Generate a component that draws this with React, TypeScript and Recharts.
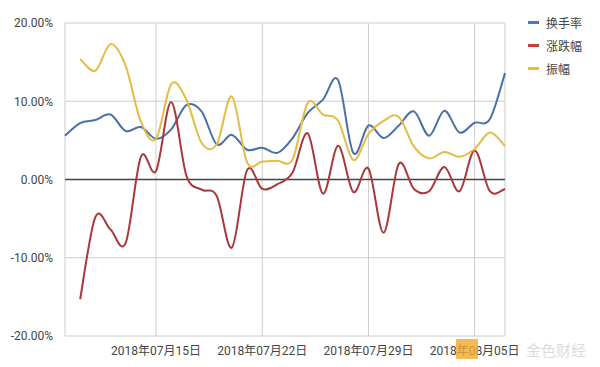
import { LineChart, Line, XAxis, YAxis, CartesianGrid, ReferenceLine } from 'recharts'

// daily values, 2018-07-09 .. 2018-08-07 (percent)
const dates = [
  '2018年07月09日', '2018年07月10日', '2018年07月11日', '2018年07月12日', '2018年07月13日',
  '2018年07月14日', '2018年07月15日', '2018年07月16日', '2018年07月17日', '2018年07月18日',
  '2018年07月19日', '2018年07月20日', '2018年07月21日', '2018年07月22日', '2018年07月23日',
  '2018年07月24日', '2018年07月25日', '2018年07月26日', '2018年07月27日', '2018年07月28日',
  '2018年07月29日', '2018年07月30日', '2018年07月31日', '2018年08月01日', '2018年08月02日',
  '2018年08月03日', '2018年08月04日', '2018年08月05日', '2018年08月06日', '2018年08月07日',
]
const turnover = [5.6, 7.2, 7.6, 8.3, 6.2, 6.7, 5.2, 6.4, 9.5, 8.7, 4.5, 5.7, 3.8, 4.05, 3.4, 5.3, 8.5, 10.2, 12.7, 3.4, 6.9, 5.3, 6.9, 8.7, 5.6, 8.8, 6.0, 7.25, 7.7, 13.6]
const change = [null, -15.3, -4.8, -6.4, -8.1, 2.9, 1.1, 9.9, 0.5, -1.3, -2.1, -8.7, 1.2, -1.2, -0.6, 0.9, 5.9, -1.8, 4.3, -1.6, 1.4, -6.8, 2.0, -1.2, -1.5, 1.6, -1.5, 3.7, -1.5, -1.2]
const amplitude = [null, 15.4, 13.9, 17.3, 14.5, 7.4, 5.2, 12.2, 10.2, 4.7, 4.5, 10.6, 2.2, 2.3, 2.4, 2.6, 9.8, 8.3, 7.5, 2.5, 5.8, 7.5, 8.0, 4.2, 2.7, 3.5, 2.9, 3.9, 6.0, 4.3]
const xTicks = ['2018年07月15日', '2018年07月22日', '2018年07月29日', '2018年08月05日']
const yTicks = [-20, -10, 0, 10, 20]

const series = [
  { key: 'turnover', name: '换手率', color: '#4a6fa8', icon: '#4a78c8' },
  { key: 'change', name: '涨跌幅', color: '#a8383a', icon: '#c0413a' },
  { key: 'amplitude', name: '振幅', color: '#e2bc45', icon: '#e6bd3f' },
]

const data = dates.map((d, i) => ({
  i,
  date: d,
  turnover: turnover[i],
  change: change[i],
  amplitude: amplitude[i],
}))

const font = "Roboto, 'Noto Sans CJK SC', sans-serif"

// catmull-rom style smoothing, close to the "function" curves of the original
function smoothCurve(context: any) {
  let pts: number[][] = []
  const flush = () => {
    if (!pts.length) return
    context.moveTo(pts[0][0], pts[0][1])
    for (let k = 0; k < pts.length - 1; k++) {
      const p0 = pts[Math.max(k - 1, 0)]
      const p1 = pts[k]
      const p2 = pts[k + 1]
      const p3 = pts[Math.min(k + 2, pts.length - 1)]
      context.bezierCurveTo(
        p1[0] + (p2[0] - p0[0]) / 6, p1[1] + (p2[1] - p0[1]) / 6,
        p2[0] - (p3[0] - p1[0]) / 6, p2[1] - (p3[1] - p1[1]) / 6,
        p2[0], p2[1],
      )
    }
  }
  return {
    areaStart() {},
    areaEnd() {},
    lineStart() { pts = [] },
    lineEnd() { flush(); pts = [] },
    point(x: number, y: number) { pts.push([+x, +y]) },
  }
}

export default function App() {
  return (
    <div style={{ position: 'absolute', left: 0, top: 0, width: 600, height: 367, background: '#fff' }}>
      <LineChart width={600} height={367} data={data} margin={{ top: 23, right: 95, bottom: 0, left: 0 }}>
        <CartesianGrid stroke="#cccccc" strokeWidth={1} />
        <XAxis
          dataKey="i"
          type="number"
          domain={[0, 29]}
          height={31}
          ticks={xTicks.map(t => dates.indexOf(t))}
          tickFormatter={(v: number) => dates[v]}
          axisLine={false}
          tickLine={false}
          tick={{ fill: '#444', fontSize: 12, fontFamily: font }}
          tickMargin={4}
          interval={0}
        />
        <YAxis
          width={65}
          domain={[-20, 20]}
          ticks={yTicks}
          tickFormatter={(v: number) => v.toFixed(2) + '%'}
          axisLine={false}
          tickLine={false}
          tick={{ fill: '#444', fontSize: 12, fontFamily: font }}
          tickMargin={6}
        />
        <ReferenceLine y={0} stroke="#444" strokeWidth={1.5} />
        {series.map(s => (
          <Line
            key={s.key}
            dataKey={s.key}
            name={s.name}
            type={smoothCurve as any}
            stroke={s.color}
            strokeWidth={2}
            dot={false}
            activeDot={false}
            isAnimationActive={false}
          />
        ))}
      </LineChart>
      <div style={{ position: 'absolute', left: 528, top: 11, fontFamily: font, fontSize: 12, color: '#444' }}>
        {series.map(s => (
          <div key={s.key} style={{ display: 'flex', alignItems: 'center', height: 23 }}>
            <span style={{ display: 'inline-block', width: 11, height: 3, background: s.icon, marginRight: 7 }} />
            {s.name}
          </div>
        ))}
      </div>
      {/* watermark: logo block sits over the last tick label, its text right of the label */}
      <span style={{ position: 'absolute', left: 456, top: 339, width: 22, height: 20, background: '#f3a72a', opacity: 0.8 }} />
      <div style={{ position: 'absolute', left: 526, top: 339, fontFamily: font, fontSize: 15, color: '#dcdcdc' }}>
        金色财经
      </div>
    </div>
  )
}
